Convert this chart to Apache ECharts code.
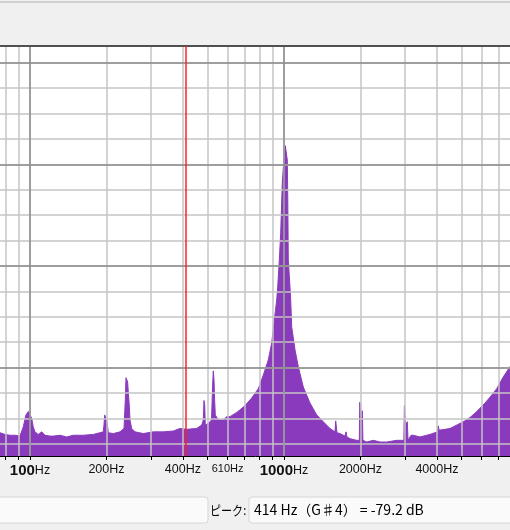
<!DOCTYPE html>
<html>
<head>
<meta charset="utf-8">
<script src="https://cdn.jsdelivr.net/npm/echarts@6/dist/echarts.min.js"></script>
<style>
html,body{margin:0;padding:0;background:#f0f0f0;}
#chart{width:510px;height:530px;}
</style>
</head>
<body>
<div id="chart"></div>
<script>
// Spectrum (frequency in Hz, level in dB)
const freqHz = [72.8, 76.2, 79.7, 83.4, 87.3, 91.3, 94.1, 96.4, 98.5, 100, 101.6, 103.0, 104.6, 107.8, 111.2, 114.6, 119.9, 123.5, 131.2, 139.5, 148.1, 162.1, 177.5, 188.6, 194.3, 195.6, 196.8, 199.2, 201.0, 203.4, 212.8, 226.1, 234.5, 237.3, 238.8, 240.9, 242.3, 243.8, 245.9, 247.6, 251.4, 259.1, 279.3, 305.8, 334.8, 366.6, 389.5, 414.0, 453.2, 474.3, 481.2, 484.2, 487.3, 490.0, 503.5, 518.4, 523.6, 526.9, 530.3, 533.2, 536.5, 551.3, 576.8, 595.0, 613.1, 651.5, 677.3, 702.4, 746.2, 792.3, 828.9, 867.4, 894.6, 915.9, 936.1, 944.6, 958.5, 970.6, 984.7, 1000, 1011.8, 1022.8, 1030.3, 1035, 1039.7, 1055.9, 1062.6, 1072.3, 1105.0, 1138.6, 1191.2, 1266.0, 1345.2, 1428.0, 1517.4, 1587.8, 1597.8, 1608, 1617, 1661.5, 1738.6, 1754.3, 1770, 1819.0, 1932.8, 1979, 1988, 2001, 2010, 2033.7, 2045, 2116.4, 2247, 2388, 2537, 2778, 2965, 2979, 2995, 3011, 3058, 3078, 3134, 3162, 3229, 3431, 3756, 4021, 4052, 4077, 4305, 4503, 4713, 4931, 5159, 5398, 5649, 5911, 6184, 6473, 6879, 7302, 7760, 8495, 10000];
const levelDb = [-79.7, -79.7, -79.9, -80.0, -80.0, -80.1, -79.0, -77.6, -77.2, -77.4, -78.0, -79.0, -79.6, -79.9, -79.6, -80.0, -80.1, -80.1, -80.0, -80.2, -80.0, -80.0, -79.9, -79.7, -79.6, -78.8, -77.6, -77.6, -78.4, -79.7, -79.8, -79.6, -79.2, -75.8, -73.2, -73.2, -73.7, -74.9, -76.4, -78.2, -79.2, -79.6, -79.8, -79.6, -79.6, -79.5, -79.2, -79.3, -79.2, -78.8, -78.2, -75.9, -76.4, -78.8, -78.6, -78.2, -74.1, -72.4, -73.5, -75.8, -77.6, -78.2, -78.2, -77.8, -77.8, -77.3, -76.9, -76.5, -75.6, -74.5, -72.9, -71.1, -69.1, -66.4, -64.0, -62.5, -59.3, -56.1, -50.2, -47.3, -45.8, -45.6, -47.5, -52.2, -59.3, -62.5, -64.0, -67.2, -69.9, -71.9, -74.3, -76.2, -77.6, -78.4, -79.2, -79.6, -78.3, -78.3, -79.7, -79.8, -80.1, -79.6, -80.2, -80.4, -80.6, -80.6, -76.1, -76.1, -77.6, -77.1, -80.6, -80.8, -80.6, -80.8, -80.8, -80.6, -80.6, -76.5, -76.5, -78.8, -78.4, -80.6, -80.6, -80.0, -80.0, -80.2, -79.9, -79.6, -78.9, -79.4, -79.3, -79.2, -78.9, -78.6, -78.3, -77.9, -77.4, -76.8, -76.2, -75.5, -74.5, -73.1, -71.9, -70.2, -66.4];

// Axis ticks / labels
const minorTickHz = [80, 90, 100, 200, 300, 400, 500, 600, 700, 800, 900, 1000, 2000, 3000, 4000, 5000, 6000, 7000, 8000, 9000, 10000];
const majorTickHz = [100, 1000, 10000];
const labelHz = [100, 200, 400, 600, 1000, 2000, 4000, 10000];
const labelText = ['100Hz', '200Hz', '400Hz', '610Hz', '1000Hz', '2000Hz', '4000Hz', '10000Hz'];
const minorDb = [-81, -78, -75, -72, -69, -66, -63, -60, -57, -54, -51, -48, -45, -42, -39, -36];
const majorDb = [-72, -60, -48, -36];
const cursorHz = [412];
const peakLabel = 'ピーク:';
const peakText = '414 Hz（G♯4） = -79.2 dB';

const spectrum = freqHz.map((f, i) => [f, levelDb[i]]);
const PURPLE = '#8a3bbd';

function fmtLabel(val) {
  for (let i = 0; i < labelHz.length; i++) {
    if (Math.abs(Math.log10(val) - Math.log10(labelHz[i])) < 1e-4) {
      const t = labelText[i];
      const num = t.replace('Hz', '');
      if (majorTickHz.indexOf(labelHz[i]) >= 0) return '{b|' + num + '}{n|Hz}';
      if (t === '610Hz') return '{s|' + t + '}';
      return '{n|' + t + '}';
    }
  }
  return '';
}

const chart = echarts.init(document.getElementById('chart'), null, {renderer: 'canvas'});
chart.setOption({
  animation: false,
  backgroundColor: '#f0f0f0',
  grid: {left: 0, right: -28, top: 46, bottom: 74, show: true, backgroundColor: '#ffffff', borderWidth: 0,
         containLabel: false, outerBoundsMode: 'none'},
  xAxis: [{
    type: 'log', logBase: 10, min: 76.2, max: 10000, position: 'bottom', z: 5,
    axisLine: {show: true, lineStyle: {color: '#000', width: 1}},
    axisTick: {show: true, length: 4, customValues: minorTickHz, lineStyle: {color: '#000'}},
    axisLabel: {
      show: true, customValues: labelHz, margin: 7, formatter: fmtLabel, hideOverlap: false,
      rich: {
        b: {fontFamily: 'Liberation Sans', fontSize: 15, fontWeight: 'bold', color: '#111'},
        n: {fontFamily: 'Liberation Sans', fontSize: 12.5, color: '#111'},
        s: {fontFamily: 'Liberation Sans', fontSize: 11, color: '#111'}
      }
    },
    splitLine: {show: true, lineStyle: {color: '#c4c4c4', width: 1.5}}
  }, {
    type: 'log', logBase: 10, min: 76.2, max: 10000, position: 'top', z: 6,
    axisLine: {show: true, lineStyle: {color: '#505050', width: 2}},
    axisTick: {show: false, customValues: majorTickHz},
    axisLabel: {show: false},
    splitLine: {show: true, lineStyle: {color: '#8c8c8c', width: 1.5}}
  }],
  yAxis: [{
    type: 'value', min: -82.45, max: -34.03, position: 'left', z: 5,
    axisLine: {show: false}, axisLabel: {show: false},
    axisTick: {show: false, customValues: minorDb},
    splitLine: {show: true, lineStyle: {color: '#c4c4c4', width: 1.5}}
  }, {
    type: 'value', min: -82.45, max: -34.03, position: 'right', z: 6,
    axisLine: {show: false}, axisLabel: {show: false},
    axisTick: {show: false, customValues: majorDb},
    splitLine: {show: true, lineStyle: {color: '#8c8c8c', width: 1.5}}
  }],
  series: [{
    type: 'line', xAxisIndex: 0, yAxisIndex: 0, data: spectrum, z: 2,
    showSymbol: false, symbol: 'none', smooth: false,
    lineStyle: {color: PURPLE, width: 1},
    areaStyle: {color: PURPLE, opacity: 1, origin: 'start'},
    silent: true
  }, {
    type: 'line', xAxisIndex: 0, yAxisIndex: 0, data: [], z: 10,
    markLine: {
      silent: true, symbol: 'none', animation: false, z: 10,
      label: {show: false},
      lineStyle: {color: '#ff2020', width: 1.5, type: 'solid'},
      data: cursorHz.map(v => ({xAxis: v}))
    }
  }],
  graphic: [
    {type: 'line', shape: {x1: 0, y1: 2, x2: 510, y2: 2}, style: {stroke: '#b0b0b0', lineWidth: 1}},
    {type: 'rect', shape: {x: -3, y: 497, width: 211, height: 26, r: 3}, style: {fill: '#fafafa', stroke: '#d6d6d6', lineWidth: 1}},
    {type: 'text', x: 210, y: 510, scaleX: 0.85, style: {text: peakLabel, fontFamily: 'Noto Sans CJK JP', fontSize: 13, fill: '#000', verticalAlign: 'middle'}},
    {type: 'rect', shape: {x: 249, y: 497, width: 265, height: 26, r: 3}, style: {fill: '#fafafa', stroke: '#d6d6d6', lineWidth: 1}},
    {type: 'text', x: 254, y: 510, style: {text: peakText, fontFamily: 'Noto Sans CJK JP', fontSize: 14, fill: '#000', verticalAlign: 'middle'}}
  ]
});
</script>
</body>
</html>
